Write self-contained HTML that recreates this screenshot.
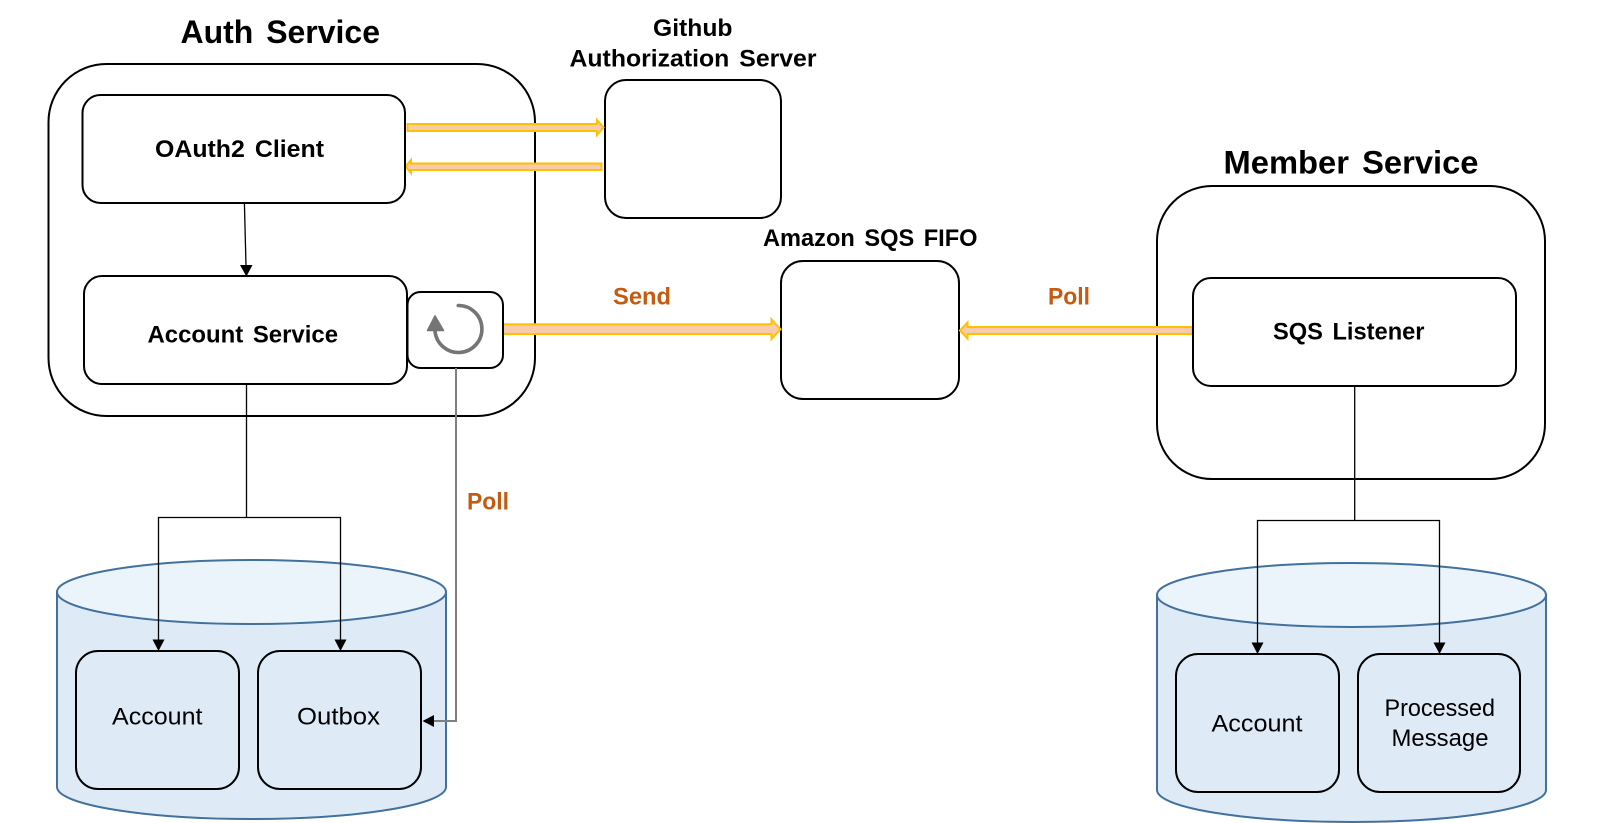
<!DOCTYPE html>
<html>
<head>
<meta charset="utf-8">
<style>
html,body{margin:0;padding:0;background:#fff;width:1597px;height:823px;overflow:hidden}
svg{display:block}
text{font-family:"Liberation Sans","Noto Sans CJK KR",sans-serif;fill:#000}
.b{font-weight:bold;font-size:24px;word-spacing:3px}
.t{font-weight:bold;font-size:32px;word-spacing:4px}
.o{font-weight:bold;font-size:24px;fill:#c55a11}
.r{font-size:24px}
.box{fill:#fff;stroke:#000;stroke-width:2}
.inner{fill:#deebf7;stroke:#000;stroke-width:2}
.cyl{fill:#deebf7;stroke:#41719c;stroke-width:2}
.top{fill:#ebf3fb;stroke:#41719c;stroke-width:2}
.fat{fill:#f8cbad;stroke:#ffc000;stroke-width:2}
.l{fill:none;stroke:#000;stroke-width:1.3}
.g{fill:none;stroke:#7f7f7f;stroke-width:2}
</style>
</head>
<body>
<svg width="1597" height="823" viewBox="0 0 1597 823" xmlns="http://www.w3.org/2000/svg">
<rect width="1597" height="823" fill="#fff"/>

<!-- containers -->
<rect class="box" x="48.5" y="64" width="486.5" height="352" rx="58" ry="58"/>
<rect class="box" x="1157" y="186" width="388" height="293" rx="55" ry="55"/>
<rect class="box" x="605" y="80" width="176" height="138" rx="21" ry="21"/>
<rect class="box" x="781" y="261" width="178" height="138" rx="22" ry="22"/>

<!-- left cylinder -->
<path class="cyl" d="M57 592 L57 787 A194.5 32 0 0 0 446 787 L446 592 Z"/>
<ellipse class="top" cx="251.5" cy="592" rx="194.5" ry="32"/>
<!-- right cylinder -->
<path class="cyl" d="M1157 595 L1157 790 A194.5 32 0 0 0 1546 790 L1546 595 Z"/>
<ellipse class="top" cx="1351.5" cy="595" rx="194.5" ry="32"/>

<!-- fat arrows -->
<path class="fat" d="M407.5 124 L597 124 L597 120 L603.5 127.5 L597 135 L597 131 L407.5 131 Z"/>
<path class="fat" d="M601.5 163.5 L411 163.5 L411 160 L405.5 166.5 L411 173 L411 170 L601.5 170 Z"/>
<path class="fat" d="M503 324.3 L771.5 324.3 L771.5 319.5 L780.5 329.3 L771.5 339 L771.5 334 L503 334 Z"/>
<path class="fat" d="M1192.5 327 L967.5 327 L967.5 322.5 L960 330.5 L967.5 338.5 L967.5 334 L1192.5 334 Z"/>

<!-- inner boxes -->
<rect class="box" x="82.5" y="95" width="322.5" height="108" rx="18" ry="18"/>
<rect class="box" x="84" y="276" width="323" height="108" rx="18" ry="18"/>
<rect class="box" x="1193" y="278" width="323" height="108" rx="18" ry="18"/>
<rect class="box" x="407.5" y="292" width="95.5" height="76" rx="13" ry="13"/>

<rect class="inner" x="76" y="651" width="163" height="138" rx="22" ry="22"/>
<rect class="inner" x="258" y="651" width="163" height="138" rx="22" ry="22"/>
<rect class="inner" x="1176" y="654" width="163" height="138" rx="22" ry="22"/>
<rect class="inner" x="1358" y="654" width="162" height="138" rx="22" ry="22"/>

<!-- refresh icon -->
<path d="M458.3 305.5 A23.5 23.5 0 1 1 435 331" fill="none" stroke="#757575" stroke-width="3.6" stroke-linecap="round"/>
<path d="M435 316 L427.5 330.5 L443.5 330.5 Z" fill="#757575" stroke="#757575" stroke-width="1.6" stroke-linejoin="round"/>

<!-- thin connectors -->
<path class="l" d="M244.4 203 L246 266"/>
<path d="M240 265 L252.5 265 L246.4 276.5 Z" fill="#000"/>

<path class="l" d="M246.5 384 L246.5 517.5"/>
<path class="l" d="M158.5 640 L158.5 517.5 L340.5 517.5 L340.5 640"/>
<path d="M152.5 639.5 L164.5 639.5 L158.5 651 Z" fill="#000"/>
<path d="M334.5 639.5 L346.5 639.5 L340.5 651 Z" fill="#000"/>

<path class="l" d="M1354.7 386 L1354.7 520.5"/>
<path class="l" d="M1257.5 643 L1257.5 520.5 L1439.5 520.5 L1439.5 643"/>
<path d="M1251.5 642.5 L1263.5 642.5 L1257.5 654 Z" fill="#000"/>
<path d="M1433.5 642.5 L1445.5 642.5 L1439.5 654 Z" fill="#000"/>

<path class="g" d="M456 368 L456 721 L433 721"/>
<path d="M434 715 L434 727 L422.5 721 Z" fill="#000"/>

<!-- labels -->
<text class="t" x="180.5" y="43" textLength="199.5" lengthAdjust="spacingAndGlyphs">Auth Service</text>
<text class="t" x="1223.5" y="173.5" textLength="255" lengthAdjust="spacingAndGlyphs">Member Service</text>
<text class="b" x="653" y="36" textLength="79.5" lengthAdjust="spacingAndGlyphs">Github</text>
<text class="b" x="569.5" y="66.5" textLength="247" lengthAdjust="spacingAndGlyphs">Authorization Server</text>
<text class="b" x="763" y="246" textLength="214.5" lengthAdjust="spacingAndGlyphs">Amazon SQS FIFO</text>
<text class="b" x="155" y="157" textLength="169" lengthAdjust="spacingAndGlyphs">OAuth2 Client</text>
<text class="b" x="147.5" y="342.5" textLength="190.5" lengthAdjust="spacingAndGlyphs">Account Service</text>
<text class="b" x="1273" y="339.5" textLength="151.5" lengthAdjust="spacingAndGlyphs">SQS Listener</text>
<text class="o" x="613" y="304.5" textLength="58" lengthAdjust="spacingAndGlyphs">Send</text>
<text class="o" x="1048" y="304.5" textLength="42" lengthAdjust="spacingAndGlyphs">Poll</text>
<text class="o" x="467" y="509.5" textLength="42" lengthAdjust="spacingAndGlyphs">Poll</text>
<text class="r" x="112" y="724.5" textLength="90.5" lengthAdjust="spacingAndGlyphs">Account</text>
<text class="r" x="297" y="724.5" textLength="83" lengthAdjust="spacingAndGlyphs">Outbox</text>
<text class="r" x="1211.5" y="731.5" textLength="91" lengthAdjust="spacingAndGlyphs">Account</text>
<text class="r" x="1384.5" y="716" textLength="110.5" lengthAdjust="spacingAndGlyphs">Processed</text>
<text class="r" x="1391.5" y="746" textLength="97" lengthAdjust="spacingAndGlyphs">Message</text>
</svg>
</body>
</html>
